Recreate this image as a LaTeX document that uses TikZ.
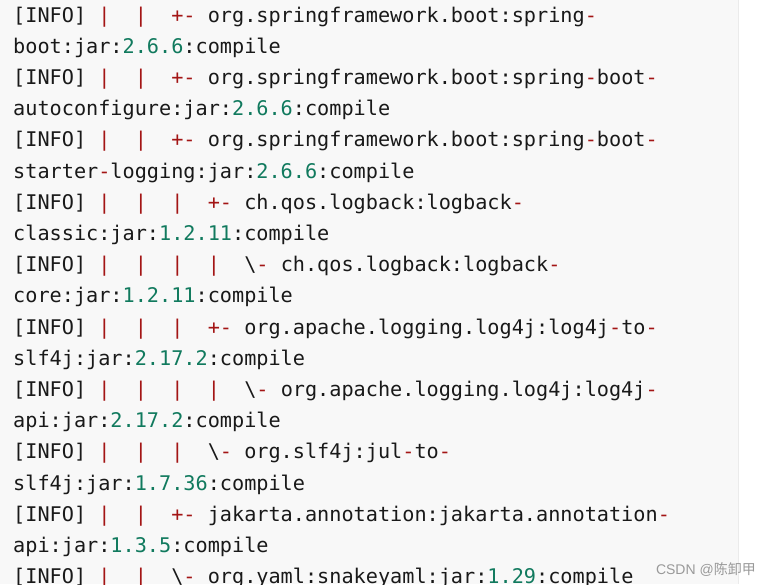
\documentclass[tikz,border=0pt]{standalone}
\usepackage{fontspec}
\setmonofont{DejaVu Sans Mono}
\newfontfamily\cjk{Noto Sans CJK SC}
\setsansfont{Liberation Sans}
\definecolor{codered}{HTML}{A31515}
\definecolor{codegreen}{HTML}{117A5E}
\definecolor{bg}{HTML}{F8F8F8}
\newcommand{\Rd}[1]{\textcolor{codered}{#1}}
\newcommand{\Gn}[1]{\textcolor{codegreen}{#1}}
\newcommand{\Inf}{[INFO]~}
\newcommand{\Pp}{\Rd{|}~~}
\begin{document}
\begin{tikzpicture}[x=1pt,y=-1pt,
  ln/.style={anchor=base west,inner sep=0,font=\ttfamily\fontsize{20.2}{24}\selectfont,text=black!90}]
\clip (0,0) rectangle (771,584);
\fill[white] (0,0) rectangle (771,584);
\fill[bg] (0,0) rectangle (738,584);
\draw[black!8] (738,0) -- (738,584);
\foreach \i/\t in {
0/{\Inf\Pp\Pp\Rd{+-}~org.springframework.boot:spring\Rd{-}},
1/{boot:jar:\Gn{2.6.6}:compile},
2/{\Inf\Pp\Pp\Rd{+-}~org.springframework.boot:spring\Rd{-}boot\Rd{-}},
3/{autoconfigure:jar:\Gn{2.6.6}:compile},
4/{\Inf\Pp\Pp\Rd{+-}~org.springframework.boot:spring\Rd{-}boot\Rd{-}},
5/{starter\Rd{-}logging:jar:\Gn{2.6.6}:compile},
6/{\Inf\Pp\Pp\Pp\Rd{+-}~ch.qos.logback:logback\Rd{-}},
7/{classic:jar:\Gn{1.2.11}:compile},
8/{\Inf\Pp\Pp\Pp\Pp\textbackslash\Rd{-}~ch.qos.logback:logback\Rd{-}},
9/{core:jar:\Gn{1.2.11}:compile},
10/{\Inf\Pp\Pp\Pp\Rd{+-}~org.apache.logging.log4j:log4j\Rd{-}to\Rd{-}},
11/{slf4j:jar:\Gn{2.17.2}:compile},
12/{\Inf\Pp\Pp\Pp\Pp\textbackslash\Rd{-}~org.apache.logging.log4j:log4j\Rd{-}},
13/{api:jar:\Gn{2.17.2}:compile},
14/{\Inf\Pp\Pp\Pp\textbackslash\Rd{-}~org.slf4j:jul\Rd{-}to\Rd{-}},
15/{slf4j:jar:\Gn{1.7.36}:compile},
16/{\Inf\Pp\Pp\Rd{+-}~jakarta.annotation:jakarta.annotation\Rd{-}},
17/{api:jar:\Gn{1.3.5}:compile},
18/{\Inf\Pp\Pp\textbackslash\Rd{-}~org.yaml:snakeyaml:jar:\Gn{1.29}:compile}}
  \node[ln] (l\i) at (13,{22+31.2*\i}) {\t};
\node[anchor=base east,inner sep=0,text=black!40,font=\sffamily\fontsize{14}{16}\selectfont] (wm) at (756,574) {CSDN @{\cjk 陈卸甲}};
\end{tikzpicture}
\end{document}
